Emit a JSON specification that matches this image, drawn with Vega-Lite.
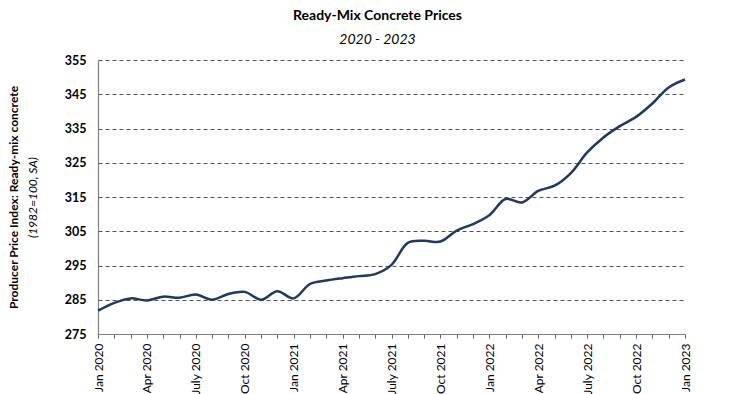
{
  "$schema": "https://vega.github.io/schema/vega-lite/v6.json",
  "autosize": {"type": "none"},
  "padding": {"left": 98, "top": 60, "right": 70, "bottom": 60},
  "width": 587,
  "height": 274,
  "background": "white",
  "config": {"view": {"stroke": null}, "font": "Lato"},
  "title": {
    "text": "Ready-Mix Concrete Prices",
    "subtitle": "2020 - 2023",
    "anchor": "middle",
    "frame": "group",
    "dx": -14,
    "offset": 7,
    "font": "Lato",
    "fontSize": 14,
    "fontWeight": "bold",
    "color": "black",
    "subtitleFont": "Lato",
    "subtitleFontSize": 14,
    "subtitleFontStyle": "italic",
    "subtitleColor": "black",
    "subtitlePadding": 10
  },
  "data": {"values": [
    {"month": "Jan 2020", "ppi": 281.8},
    {"month": "Feb 2020", "ppi": 284.1},
    {"month": "Mar 2020", "ppi": 285.4},
    {"month": "Apr 2020", "ppi": 284.8},
    {"month": "May 2020", "ppi": 285.9},
    {"month": "Jun 2020", "ppi": 285.6},
    {"month": "July 2020", "ppi": 286.5},
    {"month": "Aug 2020", "ppi": 285.0},
    {"month": "Sep 2020", "ppi": 286.7},
    {"month": "Oct 2020", "ppi": 287.3},
    {"month": "Nov 2020", "ppi": 285.0},
    {"month": "Dec 2020", "ppi": 287.5},
    {"month": "Jan 2021", "ppi": 285.4},
    {"month": "Feb 2021", "ppi": 289.6},
    {"month": "Mar 2021", "ppi": 290.6},
    {"month": "Apr 2021", "ppi": 291.3},
    {"month": "May 2021", "ppi": 291.9},
    {"month": "Jun 2021", "ppi": 292.5},
    {"month": "July 2021", "ppi": 295.2},
    {"month": "Aug 2021", "ppi": 301.6},
    {"month": "Sep 2021", "ppi": 302.2},
    {"month": "Oct 2021", "ppi": 302.0},
    {"month": "Nov 2021", "ppi": 305.2},
    {"month": "Dec 2021", "ppi": 307.1},
    {"month": "Jan 2022", "ppi": 309.7},
    {"month": "Feb 2022", "ppi": 314.4},
    {"month": "Mar 2022", "ppi": 313.4},
    {"month": "Apr 2022", "ppi": 316.8},
    {"month": "May 2022", "ppi": 318.3},
    {"month": "Jun 2022", "ppi": 322.0},
    {"month": "July 2022", "ppi": 328.0},
    {"month": "Aug 2022", "ppi": 332.4},
    {"month": "Sep 2022", "ppi": 335.7},
    {"month": "Oct 2022", "ppi": 338.4},
    {"month": "Nov 2022", "ppi": 342.3},
    {"month": "Dec 2022", "ppi": 347.0},
    {"month": "Jan 2023", "ppi": 349.3}
  ]},
  "layer": [
    {
      "mark": {"type": "line", "color": "#1F3864", "strokeWidth": 2.5, "interpolate": "catmull-rom"},
      "encoding": {
        "x": {
          "field": "month", "type": "ordinal", "sort": null,
          "scale": {"type": "point", "padding": 0},
          "axis": {
            "title": null,
            "labelAngle": -90,
            "labelAlign": "right",
            "labelBaseline": "middle",
            "labelFont": "Lato",
            "labelFontSize": 12,
            "labelColor": "black",
            "labelPadding": 5,
            "labelOverlap": false,
            "labelExpr": "(split(datum.value, ' ')[0] == 'Jan' || split(datum.value, ' ')[0] == 'Apr' || split(datum.value, ' ')[0] == 'July' || split(datum.value, ' ')[0] == 'Oct') ? datum.value : ''",
            "domainColor": "#808080",
            "domainWidth": 1.2,
            "tickColor": "#606060",
            "tickSize": 4,
            "ticks": true,
            "grid": false
          }
        },
        "y": {
          "field": "ppi", "type": "quantitative",
          "scale": {"domain": [275, 355], "nice": false, "zero": false},
          "axis": {
            "orient": "left",
            "values": [275, 285, 295, 305, 315, 325, 335, 345, 355],
            "title": "Producer Price Index: Ready-mix concrete",
            "titleFont": "Lato",
            "titleFontSize": 12,
            "titleFontWeight": "bold",
            "titleColor": "black",
            "titlePadding": 44,
            "labelFont": "Lato",
            "labelFontSize": 12.5,
            "labelFontWeight": "bold",
            "labelColor": "black",
            "labelPadding": 12,
            "ticks": false,
            "domainColor": "#808080",
            "domainWidth": 1.2,
            "grid": true,
            "gridColor": "#555555",
            "gridDash": [4, 3],
            "gridWidth": 1
          }
        }
      }
    },
    {
      "mark": {"type": "line", "opacity": 0},
      "encoding": {
        "x": {"field": "month", "type": "ordinal", "sort": null},
        "y": {
          "field": "ppi", "type": "quantitative",
          "axis": {
            "orient": "left",
            "title": "(1982=100, SA)",
            "titleFont": "Lato",
            "titleFontSize": 12,
            "titleFontWeight": "normal",
            "titleFontStyle": "italic",
            "titleColor": "black",
            "titlePadding": 59,
            "labels": false,
            "ticks": false,
            "domain": false,
            "grid": false
          }
        }
      }
    }
  ],
  "resolve": {"axis": {"y": "independent"}}
}
